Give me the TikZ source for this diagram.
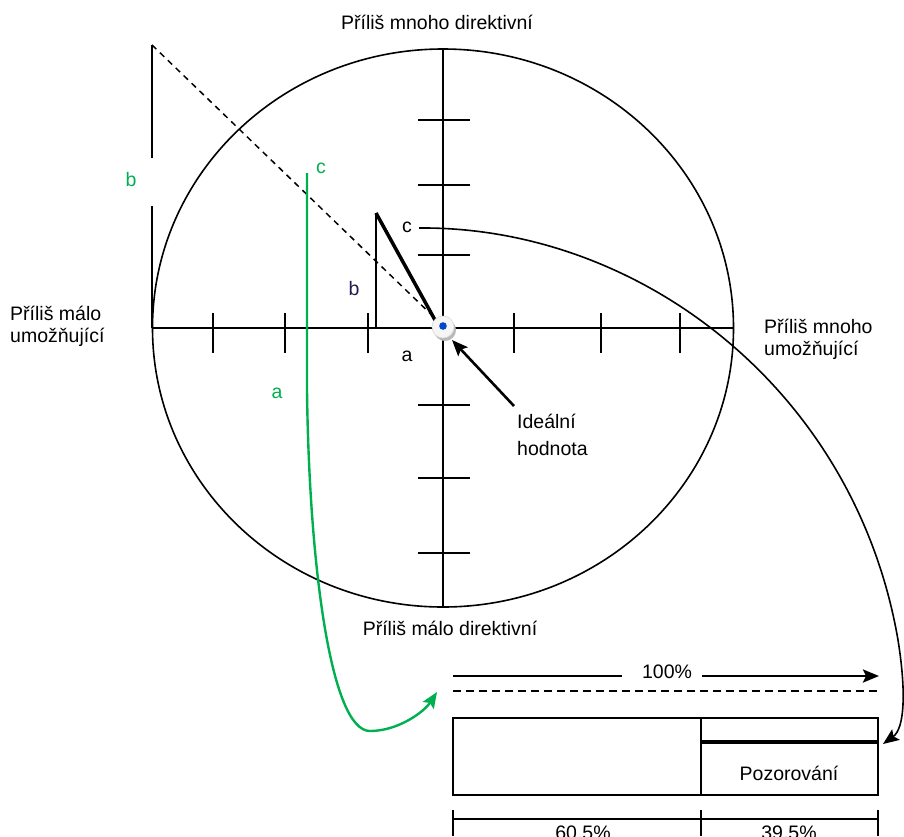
\documentclass[tikz,border=0pt]{standalone}
\usepackage{fontspec}
\setmainfont{Liberation Sans}
\usetikzlibrary{arrows.meta}
\definecolor{grn}{RGB}{0,176,80}
\definecolor{navy}{RGB}{30,30,80}
\tikzset{
  lbl/.style={inner sep=0pt, font=\fontsize{19.5}{22}\selectfont},
  axisline/.style={line width=2pt},
  tickline/.style={line width=2pt},
  grnline/.style={draw=grn, line width=2.4pt},
  tip/.style={-{Stealth[length=16pt,width=13pt,inset=3pt]}},
}
\begin{document}
\begin{tikzpicture}[x=1pt,y=-1pt]
\useasboundingbox (0,0) rectangle (904,836);
% ellipse and axes
\coordinate (O) at (443,328);
\draw[line width=1.6pt] (O) ellipse [x radius=290.5, y radius=279];
\coordinate (axL) at (152,328); \coordinate (axR) at (733,328);
\coordinate (axT) at (443,50); \coordinate (axB) at (443,607);
\draw[axisline] (axL) -- (axR);
\draw[axisline] (axT) -- (axB);
% ticks on horizontal axis
\foreach \x in {213,285,368,514,601,680}{
  \draw[tickline] (\x,313) -- (\x,353);
}
% ticks on vertical axis
\foreach \y in {120,185,255,405,478,553}{
  \draw[tickline] (418,\y) -- (470,\y);
}
% big triangle (left)
\coordinate (bT) at (152,45);
\coordinate (bM1) at (152,158);
\coordinate (bM2) at (152,206);
\coordinate (idl) at (439,322);
\draw[line width=2pt] (bT) -- (bM1);
\draw[line width=2pt] (bM2) -- (axL);
\draw[line width=1.5pt, dash pattern=on 6pt off 5pt] (bT) -- (idl);
% small triangle
\coordinate (sT) at (376,213);
\coordinate (sB) at (376,328);
\coordinate (sE) at (435,320);
\draw[line width=2pt] (sT) -- (sB);
\draw[line width=3.5pt] (sT) -- (sE);
% ideal point
\fill[gray!55] (445,330) circle (11);
\fill[gray!8] (443,327) circle (11);
\draw[gray!30, line width=0.6pt] (443,327) circle (11);
\fill[blue!65!cyan!80!black] (443,326) circle (3.8);
% labels around
\node[lbl] (top) at (437,22) {Příliš mnoho direktivní};
\node[lbl] (bot) at (450,628) {Příliš málo direktivní};
\node[lbl, anchor=west, align=left] (lft) at (10,326) {Příliš málo\\umožňující};
\node[lbl, anchor=west, align=left] (rgt) at (764,339) {Příliš mnoho\\umožňující};
\node[lbl, anchor=west, align=left, font=\fontsize{19.5}{27}\selectfont] (ideal) at (517,435) {Ideální\\hodnota};
\coordinate (idlArr) at (452,340);
\draw[line width=2.6pt, tip] (514,406) -- (idlArr);
% small letters
\node[lbl, text=navy] (lb) at (354,289) {b};
\node[lbl] (la) at (407,356) {a};
\node[lbl] (lc) at (407,227) {c};
\node[lbl, text=grn] (gb) at (131,180) {b};
\node[lbl, text=grn] (gc) at (321,168) {c};
\node[lbl, text=grn] (ga) at (277,393) {a};
% green curve
\coordinate (gS) at (307,173);
\coordinate (gE) at (437,692);
\draw[grnline, tip] (gS) -- (307,390) .. controls (309,560) and (330,731) .. (370,731) .. controls (398,731) and (424,712) .. (gE);
% black curve from c
\coordinate (cS) at (419,228);
\coordinate (cE) at (883,744);
\draw[line width=1.6pt, tip] (cS) .. controls (640,226) and (855,390) .. (898,640) .. controls (906,690) and (905,728) .. (cE);
% 100% line
\coordinate (hL) at (453,676);
\coordinate (hM) at (622,676);
\coordinate (hN) at (702,676);
\coordinate (hR) at (879,676);
\draw[line width=2pt] (hL) -- (hM);
\node[lbl] (pct) at (667,672) {100\%};
\draw[line width=2.6pt, tip] (hN) -- (hR);
\coordinate (dL) at (453,691);
\coordinate (dR) at (878,691);
\draw[line width=1.8pt, dash pattern=on 8pt off 5pt] (dL) -- (dR);
% box
\draw[line width=2pt] (453,718) rectangle (878,795);
\draw[line width=2pt] (701,718) -- (701,795);
\draw[line width=3.5pt] (701,742) -- (878,742);
\node[lbl] (poz) at (789,773) {Pozorování};
% bottom scale
\draw[line width=2pt] (453,819) -- (878,819);
\foreach \x in {453,701,878}{
  \draw[line width=2pt] (\x,810) -- (\x,836);
}
\node[lbl] (p1) at (583,833) {60.5\%};
\node[lbl] (p2) at (789,833) {39.5\%};
\end{tikzpicture}
\end{document}
